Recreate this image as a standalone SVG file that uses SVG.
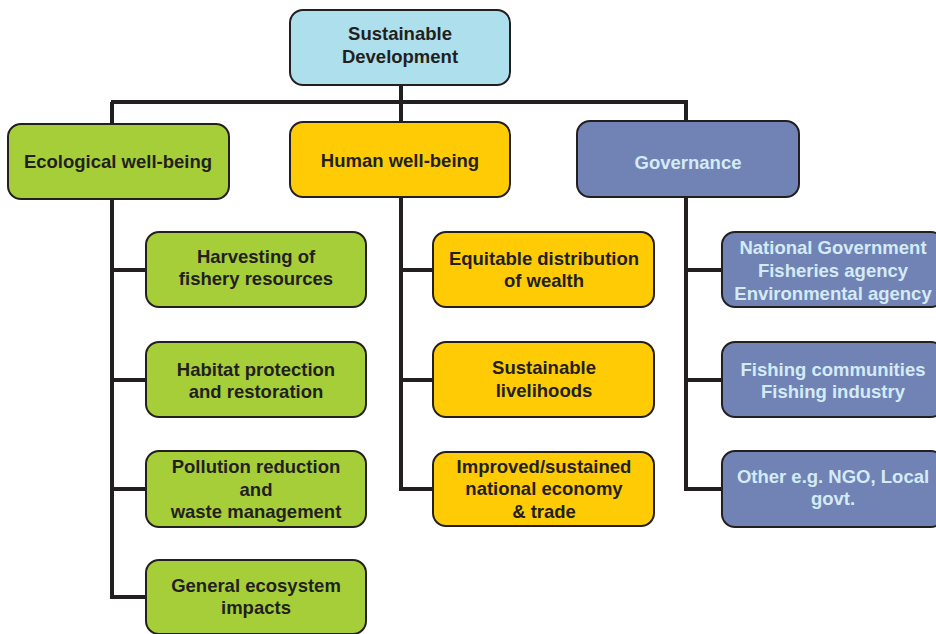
<svg xmlns="http://www.w3.org/2000/svg" width="936" height="634" viewBox="0 0 936 634">
<style>
.box{stroke:#231f20;stroke-width:2}
.root{fill:#ade0ec}
.eco{fill:#a6ce39}
.hum{fill:#ffcb05}
.gov{fill:#7083b4}
text{font-family:"Liberation Sans",Arial,sans-serif;font-weight:bold;font-size:18.5px;fill:#231f20;text-anchor:middle}
text.lt{fill:#d4ebf7}
.conn{fill:none;stroke:#231f20;stroke-width:4}
</style>
<rect width="936" height="634" fill="#ffffff"/>
<g id="connectors" class="conn">
<path d="M401 85V102M111 102H688M112 102V124M401 102V122M686 102V121"/>
<path d="M112 199V597H146M112 270H146M112 380H146M112 489H146"/>
<path d="M401 197V489H433M401 270H433M401 380H433"/>
<path d="M686 197V489H722M686 270H722M686 380H722"/>
</g>
<g id="sustainable-development">
<rect class="box root" x="290" y="10" width="220" height="75" rx="13"/>
<text x="400" y="40">Sustainable</text><text x="400" y="63">Development</text>
</g>
<g id="ecological">
<rect class="box eco" x="8" y="124" width="221" height="75" rx="13"/>
<text x="118" y="168">Ecological well-being</text>
</g>
<g id="human">
<rect class="box hum" x="290" y="122" width="220" height="75" rx="13"/>
<text x="400" y="167">Human well-being</text>
</g>
<g id="governance">
<rect class="box gov" x="577" y="121" width="222" height="76" rx="13"/>
<text class="lt" x="688" y="169">Governance</text>
</g>
<g id="harvesting">
<rect class="box eco" x="146" y="232" width="220" height="75" rx="13"/>
<text x="256" y="263">Harvesting of</text><text x="256" y="285">fishery resources</text>
</g>
<g id="habitat">
<rect class="box eco" x="146" y="342" width="220" height="75" rx="13"/>
<text x="256" y="376">Habitat protection</text><text x="256" y="398">and restoration</text>
</g>
<g id="pollution">
<rect class="box eco" x="146" y="451" width="220" height="76" rx="13"/>
<text x="256" y="473">Pollution reduction</text><text x="256" y="496">and</text><text x="256" y="518">waste management</text>
</g>
<g id="general">
<rect class="box eco" x="146" y="560" width="220" height="74" rx="13"/>
<text x="256" y="592">General ecosystem</text><text x="256" y="614">impacts</text>
</g>
<g id="equitable">
<rect class="box hum" x="433" y="232" width="221" height="75" rx="13"/>
<text x="544" y="265">Equitable distribution</text><text x="544" y="287">of wealth</text>
</g>
<g id="livelihoods">
<rect class="box hum" x="433" y="342" width="221" height="75" rx="13"/>
<text x="544" y="374">Sustainable</text><text x="544" y="397">livelihoods</text>
</g>
<g id="economy">
<rect class="box hum" x="433" y="452" width="221" height="74" rx="13"/>
<text x="544" y="473">Improved/sustained</text><text x="544" y="495">national economy</text><text x="544" y="518">&amp; trade</text>
</g>
<g id="national">
<rect class="box gov" x="722" y="232" width="222" height="75" rx="13"/>
<text class="lt" x="833" y="254">National Government</text><text class="lt" x="833" y="277">Fisheries agency</text><text class="lt" x="833" y="300">Environmental agency</text>
</g>
<g id="fishing">
<rect class="box gov" x="722" y="342" width="222" height="75" rx="13"/>
<text class="lt" x="833" y="376">Fishing communities</text><text class="lt" x="833" y="398">Fishing industry</text>
</g>
<g id="other">
<rect class="box gov" x="722" y="451" width="222" height="76" rx="13"/>
<text class="lt" x="833" y="483">Other e.g. NGO, Local</text><text class="lt" x="833" y="505">govt.</text>
</g>
</svg>
